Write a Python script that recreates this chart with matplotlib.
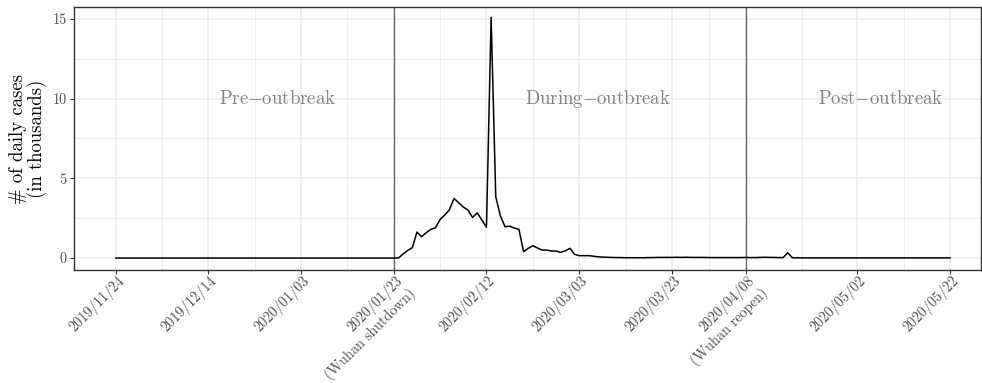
import matplotlib
matplotlib.use("Agg")
import matplotlib.pyplot as plt
import matplotlib.dates as mdates
import matplotlib.transforms as mtransforms
import numpy as np
import pandas as pd

plt.rcParams['font.family'] = ['cmr10', 'DejaVu Serif']
plt.rcParams['mathtext.fontset'] = 'cm'
plt.rcParams['axes.formatter.use_mathtext'] = True

# ---------------- data ----------------
start_date = "2019-11-24"

# daily new cases (thousands), 2019-11-24 .. 2020-01-23
pre_values = [
    0.0, 0.0, 0.0, 0.0, 0.0, 0.0, 0.0, 0.0, 0.0, 0.0,
    0.0, 0.0, 0.0, 0.0, 0.0, 0.0, 0.0, 0.0, 0.0, 0.0,
    0.0, 0.0, 0.0, 0.0, 0.0, 0.0, 0.0, 0.0, 0.0, 0.0,
    0.0, 0.0, 0.0, 0.0, 0.0, 0.0, 0.0, 0.0, 0.0, 0.0,
    0.0, 0.0, 0.0, 0.0, 0.0, 0.0, 0.0, 0.0, 0.0, 0.0,
    0.0, 0.0, 0.0, 0.0, 0.0, 0.0, 0.0, 0.0, 0.0, 0.0,
    0.0,
]
# 2020-01-24 .. 2020-04-08
during_values = [
    0.0, 0.25, 0.48, 0.65, 1.63, 1.34, 1.59, 1.80, 1.90, 2.43,
    2.70, 3.03, 3.74, 3.47, 3.20, 3.01, 2.55, 2.84, 2.38, 1.93,
    15.1, 3.85, 2.65, 1.96, 2.00, 1.88, 1.80, 0.40, 0.61, 0.77,
    0.63, 0.50, 0.50, 0.44, 0.44, 0.36, 0.45, 0.61, 0.23, 0.15,
    0.15, 0.15, 0.12, 0.08, 0.06, 0.05, 0.04, 0.03, 0.03, 0.02,
    0.02, 0.02, 0.02, 0.02, 0.03, 0.03, 0.04, 0.04, 0.04, 0.04,
    0.05, 0.04, 0.05, 0.04, 0.04, 0.04, 0.04, 0.03, 0.03, 0.03,
    0.03, 0.03, 0.03, 0.03, 0.03, 0.04,
]
# 2020-04-09 .. 2020-05-22
post_values = [
    0.03, 0.03, 0.04, 0.05, 0.04, 0.04, 0.03, 0.03, 0.33, 0.02,
    0.02, 0.01, 0.01, 0.01, 0.01, 0.01, 0.01, 0.01, 0.01, 0.01,
    0.01, 0.01, 0.01, 0.01, 0.01, 0.01, 0.01, 0.01, 0.01, 0.01,
    0.01, 0.01, 0.01, 0.01, 0.01, 0.01, 0.01, 0.01, 0.01, 0.01,
    0.01, 0.01, 0.01, 0.01,
]

tick_dates = ["2019-11-24", "2019-12-14", "2020-01-03", "2020-01-23", "2020-02-12",
              "2020-03-03", "2020-03-23", "2020-04-08", "2020-05-02", "2020-05-22"]
tick_labels = ["2019/11/24", "2019/12/14", "2020/01/03", "2020/01/23\n(Wuhan shutdown)",
               "2020/02/12", "2020/03/03", "2020/03/23", "2020/04/08\n(Wuhan reopen)",
               "2020/05/02", "2020/05/22"]
event_dates = ["2020-01-23", "2020-04-08"]
period_labels = ["Pre$-$outbreak", "During$-$outbreak", "Post$-$outbreak"]
period_label_dates = ["2019-12-29", "2020-03-07", "2020-05-07"]
period_label_y = 10
y_ticks = [0, 5, 10, 15]
y_minor = [2.5, 7.5, 12.5]

# ---------------- plot ----------------
values = pre_values + during_values + post_values
dates = pd.date_range(start_date, periods=len(values), freq="D")

fig = plt.figure(figsize=(9.82, 3.83), dpi=100)
ax = fig.add_axes([74/982, 1-270/383, (981-74)/982, (270-7)/383])

grid_col = "#EBEBEB"
tick_pos = pd.to_datetime(tick_dates)
tick_num = mdates.date2num(tick_pos)
minor_num = (tick_num[:-1] + tick_num[1:]) / 2

for x in tick_num:
    ax.axvline(x, color=grid_col, lw=1.1, zorder=0)
for x in minor_num:
    ax.axvline(x, color=grid_col, lw=0.6, zorder=0)
for y in y_ticks:
    ax.axhline(y, color=grid_col, lw=1.1, zorder=0)
for y in y_minor:
    ax.axhline(y, color=grid_col, lw=0.6, zorder=0)

for d in pd.to_datetime(event_dates):
    ax.axvline(mdates.date2num(d), color="#5E5E5E", lw=0.9, zorder=1)

ax.plot(mdates.date2num(dates), values, color="black", lw=1.1, zorder=3)

for lab, d in zip(period_labels, pd.to_datetime(period_label_dates)):
    ax.text(mdates.date2num(d), period_label_y, lab, color="#808080", fontsize=13.5,
            ha="center", va="center", zorder=4)

x0 = mdates.date2num(dates[0]) - 9.0
x1 = mdates.date2num(dates[-1]) + 6.7
ax.set_xlim(x0, x1)
ax.set_ylim(-0.75, 15.75)

ax.set_xticks(tick_num)
ax.set_xticklabels(tick_labels, rotation=45, ha="right", va="top",
                   rotation_mode="anchor", multialignment="right")
ax.set_yticks(y_ticks)
ax.set_yticklabels([str(v) for v in y_ticks])

ax.tick_params(axis="both", colors="#333333", labelcolor="#4D4D4D", length=2.75,
               width=0.8, labelsize=10.3)
ax.tick_params(axis="y", pad=2.5)
ax.tick_params(axis="x", pad=2)

offset = mtransforms.ScaledTranslation(1/100, 3.5/100, fig.dpi_scale_trans)
for lbl in ax.get_xticklabels():
    lbl.set_transform(lbl.get_transform() + offset)

for s in ax.spines.values():
    s.set_color("#333333")
    s.set_linewidth(1.0)

ax.set_ylabel("# of daily cases\n(in thousands)", fontsize=13.5, color="black",
              labelpad=4, linespacing=0.95)

fig.savefig("out.png", dpi=100)
